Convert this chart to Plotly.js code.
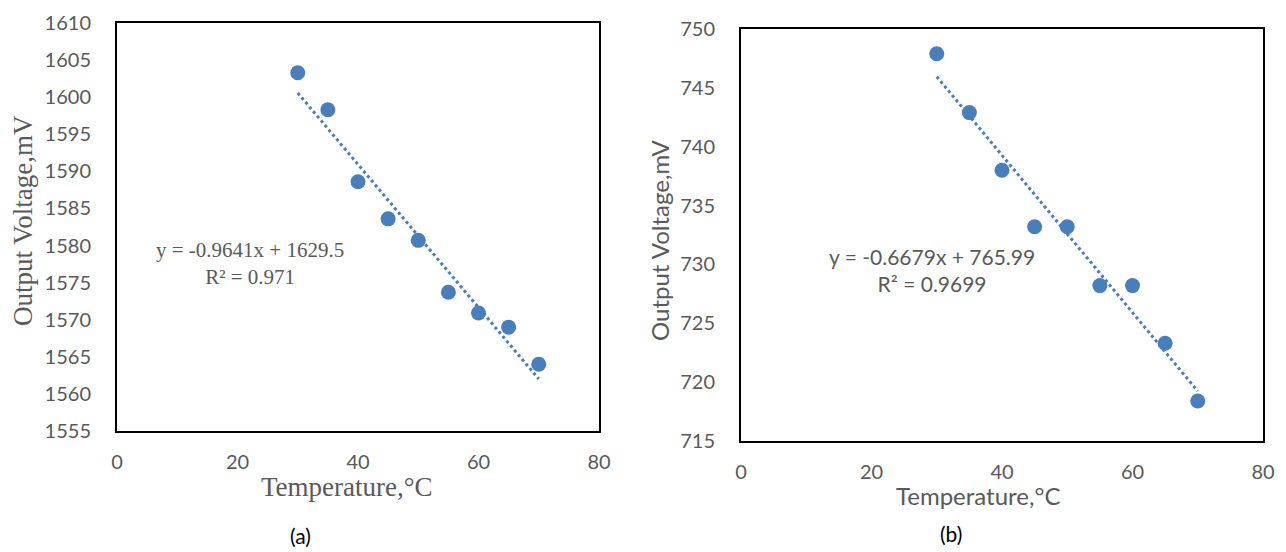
<!DOCTYPE html>
<html>
<head>
<meta charset="utf-8">
<script src="https://cdn.plot.ly/plotly-3.0.1.min.js"></script>
<style>html,body{margin:0;padding:0;background:#fff;}#chart{width:1286px;height:552px;}</style>
</head>
<body>
<div id="chart"></div>
<script>
// Data
const temperature = [30, 35, 40, 45, 50, 55, 60, 65, 70];
const voltageA = [1603.3, 1598.3, 1588.6, 1583.6, 1580.7, 1573.7, 1570.9, 1569.0, 1564.0];
const voltageB = [747.9, 742.9, 738.0, 733.2, 733.2, 728.2, 728.2, 723.3, 718.4];
const trendA = {slope: -0.9641, intercept: 1629.5, r2: "0.971"};
const trendB = {slope: -0.6679, intercept: 765.99, r2: "0.9699"};
const xTicks = [0, 20, 40, 60, 80];
const xTitle = "Temperature,°C";
const yTitle = "Output Voltage,mV";
const panelLabels = ["(a)", "(b)"];

const blue = "#4a7ebb";
const grey = "#595959";
const serif = "Liberation Serif, Times New Roman, serif";
const sans = "Lato, Open Sans, sans-serif";
const W = 1286, H = 552;
const px = v => v / W, py = v => 1 - v / H;

function trendLine(t) {
  const xs = [temperature[0], temperature[temperature.length - 1]];
  return {x: xs, y: xs.map(v => t.slope * v + t.intercept)};
}
const tA = trendLine(trendA), tB = trendLine(trendB);

const traces = [
  {x: tA.x, y: tA.y, xaxis: "x", yaxis: "y", mode: "lines", line: {color: blue, width: 3, dash: "dot"}, hoverinfo: "skip"},
  {x: temperature, y: voltageA, xaxis: "x", yaxis: "y", mode: "markers", marker: {color: blue, size: 15}},
  {x: tB.x, y: tB.y, xaxis: "x2", yaxis: "y2", mode: "lines", line: {color: blue, width: 3, dash: "dot"}, hoverinfo: "skip"},
  {x: temperature, y: voltageB, xaxis: "x2", yaxis: "y2", mode: "markers", marker: {color: blue, size: 15}}
];

function xAxis(domain, anchor) {
  return {
    domain: domain, anchor: anchor, range: [0, 80], tickvals: xTicks,
    showgrid: false, zeroline: false, showline: true, mirror: true,
    linecolor: "#000", linewidth: 2, ticks: "", ticklabelstandoff: 12,
    tickfont: {family: sans, size: 20, color: grey}
  };
}
function yAxis(domain, anchor, range) {
  return {
    domain: domain, anchor: anchor, range: range, dtick: 5,
    showgrid: false, zeroline: false, showline: true, mirror: true,
    linecolor: "#000", linewidth: 2, ticks: "", ticklabelstandoff: 20,
    tickfont: {family: sans, size: 20, color: grey}
  };
}

function label(x, y, text, font, angle) {
  return {xref: "paper", yref: "paper", x: px(x), y: py(y), xanchor: "center", yanchor: "middle",
          showarrow: false, text: text, font: font, textangle: angle || 0};
}

const layout = {
  width: W, height: H,
  margin: {l: 0, r: 0, t: 0, b: 0},
  paper_bgcolor: "#fff", plot_bgcolor: "#fff",
  showlegend: false,
  xaxis: xAxis([px(117), px(599)], "y"),
  yaxis: yAxis([py(431), py(23)], "x", [1555, 1610]),
  xaxis2: xAxis([px(741), px(1263)], "y2"),
  yaxis2: yAxis([py(441), py(29)], "x2", [715, 750]),
  annotations: [
    {xref: "x", yref: "y", x: 22.1, y: 1577.6, showarrow: false,
     text: "y = " + trendA.slope + "x + " + trendA.intercept + "<br>R² = " + trendA.r2,
     font: {family: serif, size: 21, color: grey}, align: "center"},
    {xref: "x2", yref: "y2", x: 29.3, y: 729.5, showarrow: false,
     text: "y = " + trendB.slope + "x + " + trendB.intercept + "<br>R² = " + trendB.r2,
     font: {family: sans, size: 21, color: grey}, align: "center"},
    label(347, 487, xTitle, {family: serif, size: 27, color: grey}),
    label(23, 221, yTitle, {family: serif, size: 27, color: grey}, -90),
    label(978, 495, xTitle, {family: sans, size: 24, color: grey}),
    label(660, 240, yTitle, {family: sans, size: 24, color: grey}, -90),
    label(300, 535, panelLabels[0], {family: sans, size: 21, color: "#000"}),
    label(951, 533, panelLabels[1], {family: sans, size: 21, color: "#000"})
  ]
};

Plotly.newPlot("chart", traces, layout, {displayModeBar: false, staticPlot: true});
</script>
</body>
</html>
